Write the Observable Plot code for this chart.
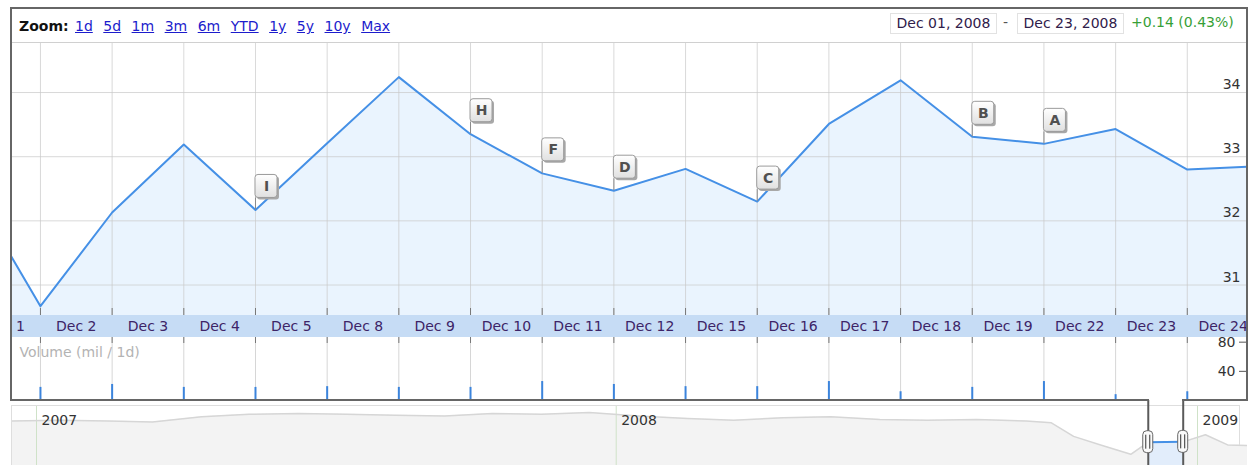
<!DOCTYPE html>
<html><head><meta charset="utf-8">
<script src="https://cdn.jsdelivr.net/npm/d3@7"></script>
<script src="https://cdn.jsdelivr.net/npm/@observablehq/plot@0.6"></script>
<style>
body{margin:0;background:#fff;font-family:"DejaVu Sans",Verdana,sans-serif;}
#root{position:relative;width:1252px;height:465px;overflow:hidden;background:#fff;}
.abs{position:absolute;}
.links a{color:#1c1ccc;text-decoration:underline;font-size:14px;}
.dbox{position:absolute;top:13px;height:19px;width:105px;border:1px solid #e2e2e2;font-size:14px;line-height:19px;text-align:center;color:#30204a;}
</style></head><body><div id="root"></div>
<script>
// ---- data ----
const priceDays = ["Nov 28","Dec 1","Dec 2","Dec 3","Dec 4","Dec 5","Dec 8","Dec 9","Dec 10","Dec 11","Dec 12","Dec 15","Dec 16","Dec 17","Dec 18","Dec 19","Dec 22","Dec 23","Dec 24"];
const prices = [32.57,30.67,32.13,33.19,32.17,33.21,34.24,33.35,32.74,32.47,32.81,32.30,33.51,34.19,33.31,33.20,33.43,32.80,32.85];
const bandLabels = ["Dec 1","Dec 2","Dec 3","Dec 4","Dec 5","Dec 8","Dec 9","Dec 10","Dec 11","Dec 12","Dec 15","Dec 16","Dec 17","Dec 18","Dec 19","Dec 22","Dec 23","Dec 24"];
const volumeDays = ["Dec 1","Dec 2","Dec 3","Dec 4","Dec 5","Dec 8","Dec 9","Dec 10","Dec 11","Dec 12","Dec 15","Dec 16","Dec 17","Dec 18","Dec 19","Dec 22","Dec 23"];
const volumes = [18,22,18,18,19,18,18,26,22,19,19,26,12,18,26,8,12];
const flagDays = ["Dec 4","Dec 9","Dec 10","Dec 11","Dec 15","Dec 18","Dec 19"];
const flagLetters = ["I","H","F","D","C","B","A"];
const priceTicks = [31,32,33,34];
const volumeTicks = [40,80];
const zoomLinks = ["1d","5d","1m","3m","6m","YTD","1y","5y","10y","Max"];
const rangeStart = "Dec 01, 2008", rangeEnd = "Dec 23, 2008", changeText = "+0.14 (0.43%)";
const navDates = ["2006-12-15","2007-01-15","2007-02-15","2007-03-15","2007-04-15","2007-05-15","2007-06-15","2007-07-15","2007-08-15","2007-09-15","2007-10-15","2007-11-15","2007-12-15","2008-01-15","2008-02-15","2008-03-15","2008-04-15","2008-05-15","2008-06-15","2008-07-15","2008-08-15","2008-09-15","2008-10-01","2008-10-15","2008-11-01","2008-11-20","2008-12-01","2008-12-23","2009-01-06","2009-01-20","2009-02-10"];
const navValues = [45.0,45.5,45.0,44.5,47.5,49.0,49.5,49.0,48.5,48.0,49.5,49.0,50.0,48.0,46.5,45.5,47.0,47.5,46.0,45.5,46.0,45.0,44.0,36.0,31.0,25.5,32.6,32.8,37.0,31.0,30.5];
const navYears = ["2007-01-01","2008-01-01","2009-01-01"];
const selection = ["2008-12-01","2008-12-23"];

// ---- derived tables ----
const dayIndex = d => priceDays.indexOf(d) - 1;   // trading-day index (Dec 1 = 0)
const series = priceDays.map((d,k)=>({i: k-1, v: prices[k]}));
const gridIdx = volumeDays.map(dayIndex);
const volData = volumeDays.map((d,k)=>({i: dayIndex(d), v: volumes[k]}));
const bandData = bandLabels.map((t,k)=>({p: k-0.5, t}));
const flags = flagDays.map((d,k)=>({i: dayIndex(d), v: prices[priceDays.indexOf(d)], f: flagLetters[k]}));
const navSeries = navDates.map((d,k)=>({d: new Date(d), v: navValues[k]}));
const selDates = selection.map(d=>new Date(d));
const selSeries = navSeries.filter(p => p.d >= selDates[0] && p.d <= selDates[1]);

const W = 1235;
const xDomain = [-0.39, 16.84];
const baseStyle = {background:"transparent", overflow:"hidden", fontFamily:"DejaVu Sans, Verdana, sans-serif", fontSize:"14px", color:"#333"};
const root = document.getElementById("root");
function place(el, l, t){ el.style.position="absolute"; el.style.left=l+"px"; el.style.top=t+"px"; root.appendChild(el); return el; }
function div(l,t,w,h,bg){ const e=document.createElement("div"); e.style.width=w+"px"; e.style.height=h+"px"; e.style.background=bg; return place(e,l,t); }

// band background
div(12,315,W,22,"#c6dcf5");

const defs = () => {
  const g = d3.create("svg:defs");
  const lg = g.append("linearGradient").attr("id","flagGrad").attr("x1",0).attr("y1",0).attr("x2",0).attr("y2",1);
  lg.append("stop").attr("offset","0%").attr("stop-color","#ffffff");
  lg.append("stop").attr("offset","100%").attr("stop-color","#e0e0e0");
  return g.node();
};

const main = Plot.plot({
  width: W, height: 294, marginTop:0, marginRight:0, marginBottom:22, marginLeft:0,
  x: {domain: xDomain, axis: null},
  y: {domain: [30.525, 34.764], axis: null},
  style: baseStyle,
  marks: [
    defs,
    Plot.areaY(series, {x:"i", y:"v", fill:"#eaf4fe", clip:true}),
    Plot.ruleY(priceTicks, {stroke:"#c9c9c9", strokeOpacity:0.7}),
    Plot.ruleX(gridIdx, {stroke:"#c9c9c9", strokeOpacity:0.7}),
    Plot.ruleX(gridIdx, {stroke:"#777", insetTop:265}),
    Plot.lineY(series, {x:"i", y:"v", stroke:"#4590e6", strokeWidth:2, clip:true}),
    Plot.rect(flags, {x1:"i", x2:"i", y1:"v", y2:"v", insetRight:-1, insetTop:-12, fill:"#8a8a8a"}),
    Plot.rect(flags, {x1:"i", x2:"i", y1:"v", y2:"v", insetLeft:2, insetRight:-24, insetTop:-33, insetBottom:10, rx:3, fill:"#a8a8a8"}),
    Plot.rect(flags, {x1:"i", x2:"i", y1:"v", y2:"v", insetRight:-22, insetTop:-35, insetBottom:12, rx:3, fill:"url(#flagGrad)", stroke:"#9a9a9a"}),
    Plot.text(flags, {x:"i", y:"v", text:"f", dx:11, dy:-23.5, fill:"#505050", fontWeight:"bold", fontSize:14}),
    Plot.text(priceTicks, {y:d=>d, text:d=>String(d), frameAnchor:"right", textAnchor:"end", dx:-7, dy:-8, fill:"#333"}),
    Plot.text(bandData, {x:"p", text:"t", frameAnchor:"bottom", dy:11, lineAnchor:"middle", fill:"#3d2467"})
  ]
});
place(main, 12, 43);

const vol = Plot.plot({
  width: W, height: 63, margin: 0,
  x: {domain: xDomain, axis: null},
  y: {domain: [0, 86.4], axis: null},
  style: baseStyle,
  marks: [
    Plot.ruleX(gridIdx, {stroke:"#d6d6d6"}),
    Plot.ruleX(gridIdx, {stroke:"#777", insetBottom:57}),
    Plot.ruleX(volData, {x:"i", y:"v", stroke:"#3b84dc", strokeWidth:2}),
    Plot.text(["Volume (mil / 1d)"], {frameAnchor:"top-left", dx:7, dy:15, lineAnchor:"middle", textAnchor:"start", fill:"#b3b3b3"}),
    Plot.ruleY(volumeTicks, {insetLeft: W-8, stroke:"#555"}),
    Plot.text(volumeTicks, {y:d=>d, text:d=>String(d), frameAnchor:"right", textAnchor:"end", dx:-12, fill:"#333"})
  ]
});
place(vol, 12, 337);

// navigator box
const nb = div(11,405,1229,70,"#fff"); nb.style.border="1px solid #dedede"; nb.style.boxSizing="border-box";

const nav = Plot.plot({
  width: W, height: 65, margin: 0,
  x: {type:"utc", domain:[new Date(navYears[0]), new Date(navYears[2])], range:[24,1185], axis:null},
  y: {domain:[18.9,57.1], axis:null},
  style: baseStyle,
  marks: [
    Plot.areaY(navSeries, {x:"d", y:"v", fill:"#f3f3f3"}),
    Plot.ruleX(navYears.map(d=>new Date(d)), {stroke:"#cfe2c8", insetTop:6}),
    Plot.lineY(navSeries, {x:"d", y:"v", stroke:"#d6d6d6", strokeWidth:1.5}),
    Plot.text(navYears.map(d=>new Date(d)), {x:d=>d, text:d=>String(d.getUTCFullYear()), frameAnchor:"top", dx:5, dy:20, textAnchor:"start", lineAnchor:"middle", fill:"#333"}),
    Plot.areaY(selSeries, {x:"d", y:"v", fill:"#e2edfb"}),
    Plot.lineY(selSeries, {x:"d", y:"v", stroke:"#4590e6", strokeWidth:2}),
    Plot.ruleX(selDates, {stroke:"#5a5a5a", strokeWidth:2}),
    Plot.rect(selSeries, {x1:"d", x2:"d", y1:"v", y2:"v", insetLeft:-5, insetRight:-5, insetTop:-11, insetBottom:-11, rx:4, fill:"#fafafa", stroke:"#666"}),
    Plot.rect(selSeries, {x1:"d", x2:"d", y1:"v", y2:"v", insetLeft:-2.5, insetRight:1.5, insetTop:-7, insetBottom:-7, fill:"#333"}),
    Plot.rect(selSeries, {x1:"d", x2:"d", y1:"v", y2:"v", insetLeft:1.5, insetRight:-2.5, insetTop:-7, insetBottom:-7, fill:"#333"})
  ]
});
place(nav, 12, 400);
const sx = nav.scale("x");
const selX0 = 12 + sx.apply(selDates[0]), selX1 = 12 + sx.apply(selDates[1]);

// frame
const FC = "#666";
div(10,7,1238,2,FC);
div(10,7,2,394,FC);
div(1246,7,2,394,FC);
div(10,399,selX0-10+1,2,FC);
div(selX1-1,399,1248-selX1+1,2,FC);
div(12,42,1234,1,"#d0d0d0");

// header
const z = document.createElement("div"); z.textContent="Zoom:"; z.style.fontWeight="bold"; z.style.fontSize="14px"; z.style.color="#111"; place(z,19,18);
const lk = document.createElement("div"); lk.className="links"; lk.style.display="flex"; lk.style.gap="10.5px";
zoomLinks.forEach(t=>{ const a=document.createElement("a"); a.href="#"; a.textContent=t; lk.appendChild(a); });
place(lk,75,18);
const b1=document.createElement("div"); b1.className="dbox"; b1.textContent=rangeStart; place(b1,890,13);
const dash=document.createElement("div"); dash.textContent="-"; dash.style.fontSize="14px"; dash.style.color="#555"; place(dash,1003,14);
const b2=document.createElement("div"); b2.className="dbox"; b2.textContent=rangeEnd; place(b2,1017,13);
const ch=document.createElement("div"); ch.textContent=changeText; ch.style.fontSize="14px"; ch.style.color="#36a036"; place(ch,1131,14);
</script></body></html>
